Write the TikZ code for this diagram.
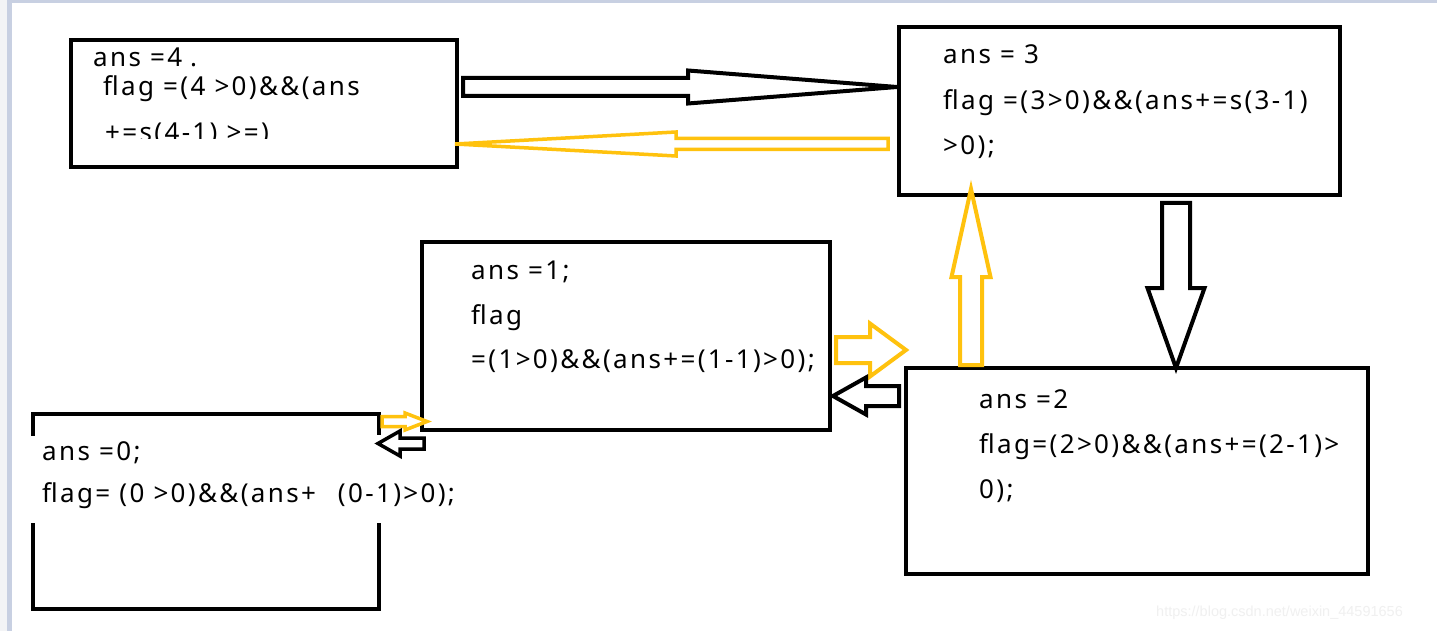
\documentclass[tikz,border=0pt]{standalone}
\usepackage{fontspec}
\usetikzlibrary{calc}
\newfontfamily\boxfont{Noto Sans}[LetterSpace=9]
\newfontfamily\wmfont{Liberation Sans}
\definecolor{yel}{RGB}{255,194,14}
\definecolor{stripgray}{RGB}{243,244,246}
\definecolor{stripblue}{RGB}{200,208,226}
\newcommand\blockarrow[6]{%
  \path let \p1=($(#3)-(#2)$) in \pgfextra{\pgfmathsetmacro\bal{veclen(\x1,\y1)}\pgfmathsetmacro\bang{atan2(\y1,\x1)}\global\let\barlen\bal\global\let\barang\bang};
  \draw[#1,shift={(#2)},rotate=\barang] (0pt,#4pt) -- ({\barlen pt-#6pt},#4pt) -- ({\barlen pt-#6pt},#5pt) -- (\barlen pt,0pt) -- ({\barlen pt-#6pt},-#5pt) -- ({\barlen pt-#6pt},-#4pt) -- (0pt,-#4pt) -- cycle;
}
\tikzset{
  box/.style={draw=black, line width=4pt, rectangle, inner sep=0pt},
  txt/.style={anchor=base west, inner sep=0pt, font=\boxfont\fontsize{26}{30}\selectfont},
  barrow/.style={draw=black, line width=4pt, fill=white},
  yarrow/.style={draw=yel, line width=4pt, fill=white},
  yarrowthin/.style={draw=yel, line width=3.5pt, fill=white},
  barrowthin/.style={draw=black, line width=3.5pt, fill=white}
}
\begin{document}
\begin{tikzpicture}[x=1pt,y=-1pt]
\useasboundingbox (0,0) rectangle (1437,631);
\fill[white] (0,0) rectangle (1437,631);
\fill[stripgray] (0,0) rectangle (7,631);
\fill[stripblue] (7,0) rectangle (12,631);
\fill[stripblue] (7,0) rectangle (1437,3);

% boxes
\node[box, minimum width=386pt, minimum height=127pt] (A) at (264,103.5) {};
\node[box, minimum width=441pt, minimum height=168pt] (B) at (1119.5,111) {};
\node[box, minimum width=408pt, minimum height=188pt] (C) at (626,336) {};
\node[box, minimum width=462pt, minimum height=206pt] (D) at (1137,471) {};
\node[rectangle, inner sep=0pt, minimum width=346pt, minimum height=195pt] (E) at (206,511.5) {};
\draw[line width=4pt, line cap=rect] ($(E.north west)+(0,20)$) -- (E.north west) -- (E.north east) -- ($(E.north east)+(0,19)$);
\draw[line width=4pt, line cap=rect] ($(E.south west)+(0,-84)$) -- (E.south west) -- (E.south east) -- ($(E.south east)+(0,-84)$);

% texts
\begin{scope}
\clip (75,42) rectangle (455,139);
\node[txt] (A1) at (93,67) {ans =4\hspace{8pt}.};
\node[txt] (A2) at (103,96) {flag =(4 >0)\&\&(ans};
\node[txt] (A3) at (105,142) {+=s(4-1) >=)};
\end{scope}
\node[txt] (B1) at (943,64) {ans = 3};
\node[txt] (B2) at (943,110) {flag =(3>0)\&\&(ans+=s(3-1)};
\node[txt] (B3) at (943,155) {>0);};
\node[txt] (C1) at (471,279) {ans =1;};
\node[txt] (C2) at (471,324) {flag};
\node[txt] (C3) at (471,368) {=(1>0)\&\&(ans+=(1-1)>0);};
\node[txt] (D1) at (979,408) {ans =2};
\node[txt] (D2) at (979,453) {flag=(2>0)\&\&(ans+=(2-1)>};
\node[txt] (D3) at (979,498) {0);};
\node[txt] (E1) at (42,460) {ans =0;};
\node[txt] (E2) at (42,502) {flag= (0 >0)\&\&(ans+\hspace{22pt}(0-1)>0);};

% arrow end points
\coordinate (a1s) at (463,87);   \coordinate (a1e) at (897,87);
\coordinate (a2s) at (888,144);  \coordinate (a2e) at (455,144);
\coordinate (a3s) at (1176,203); \coordinate (a3e) at (1176,368);
\coordinate (a4s) at (971,365);  \coordinate (a4e) at (971,189);
\coordinate (a5s) at (836,350);  \coordinate (a5e) at (906,350);
\coordinate (a6s) at (899,396);  \coordinate (a6e) at (833,396);
\coordinate (a7s) at (382,421.5);\coordinate (a7e) at (427,421.5);
\coordinate (a8s) at (424,443.5);\coordinate (a8e) at (378,443.5);

\blockarrow{barrow}{a1s}{a1e}{9}{16.5}{209}
\blockarrow{yarrowthin}{a2s}{a2e}{5.5}{12}{221}
\blockarrow{barrow}{a3s}{a3e}{14}{28.5}{80}
\blockarrow{yarrow}{a4s}{a4e}{11}{19.5}{88}
\blockarrow{yarrow}{a5s}{a5e}{13}{26.5}{36}
\blockarrow{barrow}{a6s}{a6e}{10}{18.5}{33}
\blockarrow{yarrowthin}{a7s}{a7e}{5}{8.5}{22}
\blockarrow{barrowthin}{a8s}{a8e}{5.5}{12.5}{22}

% watermark
\node[anchor=base west, inner sep=0pt, text=black!6, font=\wmfont\fontsize{14.5}{16}\selectfont] (wm) at (1156,616) {https://blog.csdn.net/weixin\_44591656};
\end{tikzpicture}
\end{document}
